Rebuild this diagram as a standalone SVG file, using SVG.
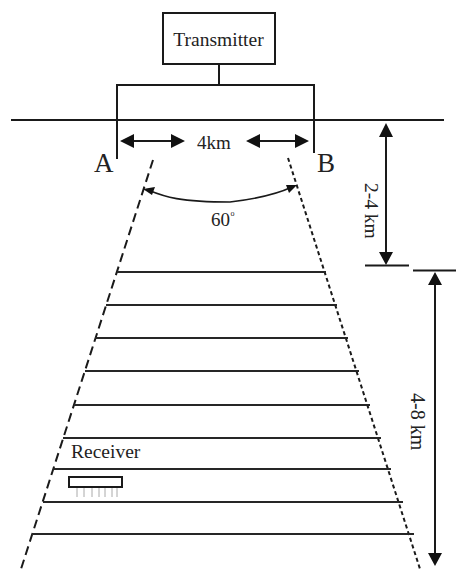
<svg xmlns="http://www.w3.org/2000/svg" width="456" height="569" viewBox="0 0 456 569">
<style>
.l{stroke:#1a1a1a;stroke-width:2;fill:none}
.a{stroke:#1a1a1a;stroke-width:1.6;fill:none}
.g{stroke:#262626;stroke-width:2;fill:none}
.f{fill:#111;stroke:none}
text{font-family:"Liberation Serif",serif;fill:#222}
</style>
<rect width="456" height="569" fill="#fff"/>
<g id="transmitter"><rect x="163" y="13" width="112" height="51" fill="#fff" stroke="#1a1a1a" stroke-width="2"/><text x="218.500" y="46" font-size="19.500" text-anchor="middle">Transmitter</text></g>
<g id="connectors">
<path class="l" d="M219 64V85M117 159V85H314V153"/>
<path class="l" d="M11 120H444"/>
<path class="l" d="M125 141H180M251 141H304"/>
<path class="f" d="M120 141L134 134V148ZM185 141L171 134V148ZM246 141L260 134V148ZM309 141L295 134V148Z"/>
<path d="M153 160L21 569" stroke="#1a1a1a" stroke-width="2" fill="none" stroke-dasharray="9 5"/>
<path d="M288 158L420 569" stroke="#1a1a1a" stroke-width="2" fill="none" stroke-dasharray="4 3"/>
<path class="a" d="M148 190C165 197 180 202 230 202C255 199 275 195 292 187"/>
<path class="f" d="M143 189L155 187L152 195ZM297 185L289 193L286 185Z"/>
<path class="l" d="M386 130V258"/>
<path class="f" d="M386 123L379 137H393ZM386 265L379 252H393Z"/>
<path class="l" d="M365 265.500H409M413 270.500H456M435 280V560"/>
<path class="f" d="M435 272L428 285H442ZM435 566L428 553H442Z"/>
<path class="g" d="M117 272H326M106 305H337M95 338H348M85 371H359M74 405H370M63 438H381M53 469H391M43 502H403M32 534H414"/>
</g>
<g id="receiver"><rect x="69" y="477" width="53" height="10" fill="#fff" stroke="#1a1a1a" stroke-width="2"/><path d="M77 488V497M84 488V497M92 488V497M99 488V497M105 488V497M112 488V497M117 488V497" stroke="#aaa" stroke-width="1"/><text x="71" y="458" font-size="19.500">Receiver</text></g>
<g id="labels">
<text x="214" y="149" font-size="19" text-anchor="middle">4km</text>
<text x="94" y="172" font-size="27">A</text>
<text x="317" y="172" font-size="27">B</text>
<text x="211" y="226" font-size="19">60</text><text x="230.500" y="216" font-size="8">o</text>
<text transform="translate(365,183) rotate(90)" font-size="19.500">2-4 km</text>
<text transform="translate(411,393) rotate(90)" font-size="20">4-8 km</text>
</g>
</svg>
